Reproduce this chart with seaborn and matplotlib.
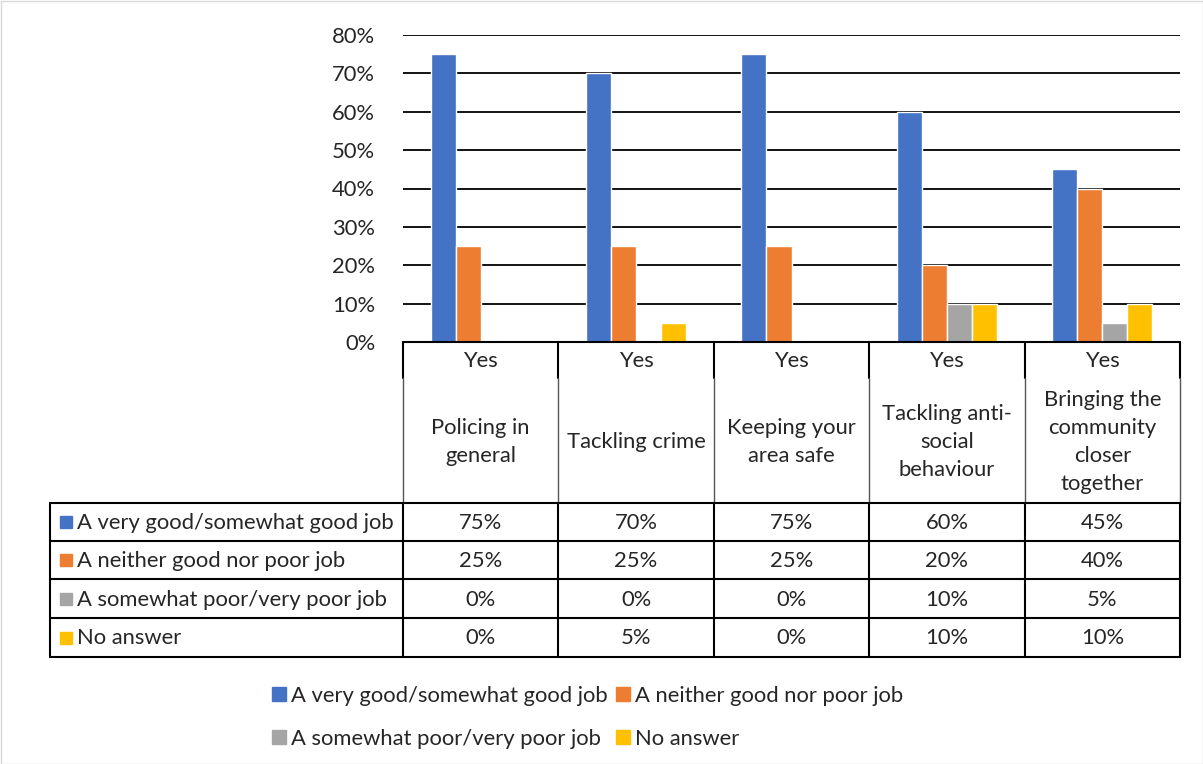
import numpy as np
import pandas as pd
import seaborn as sns
import matplotlib.pyplot as plt
from matplotlib.patches import Rectangle
from matplotlib.lines import Line2D

# data
categories = ["Policing in\ngeneral", "Tackling crime", "Keeping your\narea safe",
              "Tackling anti-\nsocial\nbehaviour", "Bringing the\ncommunity\ncloser\ntogether"]
group_label = ["Yes", "Yes", "Yes", "Yes", "Yes"]
series = ["A very good/somewhat good job", "A neither good nor poor job",
          "A somewhat poor/very poor job", "No answer"]
very_good = [75, 70, 75, 60, 45]
neither = [25, 25, 25, 20, 40]
poor = [0, 0, 0, 10, 5]
no_answer = [0, 5, 0, 10, 10]
colors = ["#4472C4", "#ED7D31", "#A5A5A5", "#FFC000"]
yticks = [0, 10, 20, 30, 40, 50, 60, 70, 80]

values = [very_good, neither, poor, no_answer]
rows = []
for s, vals in zip(series, values):
    for i, v in enumerate(vals):
        rows.append({"cat": i, "series": s, "value": v})
df = pd.DataFrame(rows)

sns.set_style("white")
plt.rcParams['font.family'] = ['Lato', 'DejaVu Sans']
FS = 15.8

W, H = 1203, 764
fig = plt.figure(figsize=(W / 100, H / 100), dpi=100)

# pixel layout
left, right, top, zero = 403, 1180, 35, 342
ax = fig.add_axes([left / W, 1 - zero / H, (right - left) / W, (zero - top) / H])
sns.barplot(data=df, x="cat", y="value", hue="series", palette=colors,
            width=0.645, saturation=1, ax=ax, legend=False, errorbar=None)
ax.set_ylim(0, 80)
ax.set_xlim(-0.5, 4.5)
ax.set_yticks(yticks)
ax.set_yticklabels([f"{t}%" for t in yticks], fontsize=FS)
ax.set_xticks([])
ax.set_xlabel("")
ax.set_ylabel("")
for t in yticks[1:]:
    ax.axhline(t, color="black", lw=1.3, zorder=0)
for sp in ax.spines.values():
    sp.set_visible(False)
ax.tick_params(axis="y", length=0, pad=20)

# overlay in pixel coords for the data table
ov = fig.add_axes([0, 0, 1, 1], facecolor="none")
ov.set_xlim(0, W)
ov.set_ylim(H, 0)
ov.axis("off")

col_edges = np.linspace(left, right, 6)
row_edges = [503, 541, 579, 618, 657]
lw = 1.5

# header lines
ov.plot([left, right], [zero, zero], color="black", lw=lw)
for x in col_edges:
    ov.plot([x, x], [zero, 378], color="black", lw=lw)
    ov.plot([x, x], [378, 503], color="#555555", lw=1.0)
# body
for y in row_edges:
    ov.plot([50, right], [y, y], color="black", lw=lw)
for x in [50] + list(col_edges):
    ov.plot([x, x], [503, 657], color="black", lw=lw)

centers = (col_edges[:-1] + col_edges[1:]) / 2
for i, c in enumerate(centers):
    ov.text(c, 361, group_label[i], ha="center", va="center", fontsize=FS)
    ov.text(c, 442, categories[i], ha="center", va="center", fontsize=FS, linespacing=1.52)

for r, (s, vals) in enumerate(zip(series, values)):
    yc = (row_edges[r] + row_edges[r + 1]) / 2
    ov.add_patch(Rectangle((60, yc - 6), 12, 12, color=colors[r]))
    ov.text(77, yc + 1, s, ha="left", va="center", fontsize=FS)
    for i, c in enumerate(centers):
        ov.text(c, yc + 1, f"{vals[i]}%", ha="center", va="center", fontsize=FS)

# legend
handles = [Line2D([], [], marker="s", ls="", color=colors[k], markersize=9.5) for k in range(4)]
order = [0, 2, 1, 3]
fig.legend([handles[k] for k in order], [series[k] for k in order], ncol=2,
           loc="upper left", bbox_to_anchor=(265 / W, 1 - 677 / H), frameon=False,
           fontsize=FS, handlelength=0.5, handletextpad=0.3, columnspacing=0.45,
           labelspacing=1.05, borderaxespad=0)

# chart border
ov.add_patch(Rectangle((0.5, 0.5), W - 1, H - 1, fill=False, ec="#D9D9D9", lw=1))

fig.savefig("out.png", dpi=100)
